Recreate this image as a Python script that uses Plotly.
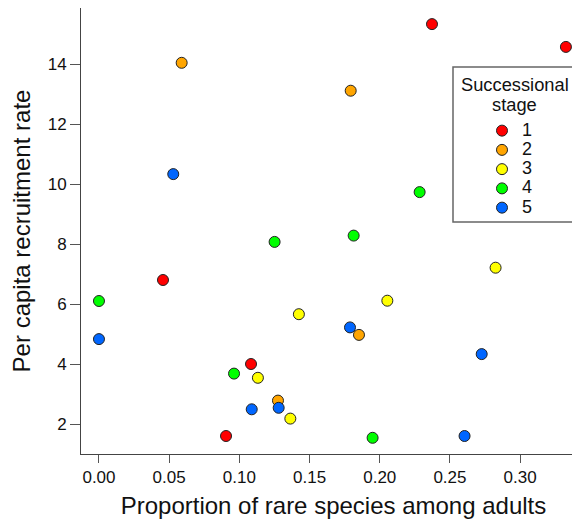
import plotly.graph_objects as go

stages = ["1", "2", "3", "4", "5"]
colors = ["#FF0000", "#FFA500", "#FFFF00", "#00FF00", "#0066FF"]

x_stage1 = [0.2372, 0.3326, 0.0456, 0.1083, 0.0905]
y_stage1 = [15.33, 14.57, 6.80, 4.00, 1.60]

x_stage2 = [0.0589, 0.1793, 0.1852, 0.1275]
y_stage2 = [14.04, 13.11, 4.97, 2.78]

x_stage3 = [0.2825, 0.2054, 0.1424, 0.1132, 0.1363]
y_stage3 = [7.21, 6.11, 5.66, 3.54, 2.18]

x_stage4 = [0.2284, 0.1251, 0.1814, 0.0000, 0.0962, 0.1949]
y_stage4 = [9.73, 8.07, 8.28, 6.10, 3.68, 1.54]

x_stage5 = [0.0529, 0.0000, 0.1788, 0.2726, 0.1088, 0.1280, 0.2604]
y_stage5 = [10.33, 4.83, 5.22, 4.33, 2.49, 2.54, 1.60]

xs = [x_stage1, x_stage2, x_stage3, x_stage4, x_stage5]
ys = [y_stage1, y_stage2, y_stage3, y_stage4, y_stage5]

x_ticks = [0.00, 0.05, 0.10, 0.15, 0.20, 0.25, 0.30]
x_ticklabels = ["0.00", "0.05", "0.10", "0.15", "0.20", "0.25", "0.30"]
y_ticks = [2, 4, 6, 8, 10, 12, 14]

FONT = "Liberation Sans, Arial, sans-serif"
TXT = "#111111"

fig = go.Figure()
for s, c, x, y in zip(stages, colors, xs, ys):
    fig.add_trace(go.Scatter(
        x=x, y=y, mode="markers",
        name='<span style="font-size:18px">%s</span>' % s,
        marker=dict(color=c, size=11, line=dict(color="#222222", width=1)),
    ))

# page body has an 8px default margin: figure origin sits at screen (8, 8)
OFF = 8
W, H = 580, 522
L, R, T, B = 73, 2, 0, 76
pw, ph = W - L - R, H - T - B

def px(sx):
    return (sx - OFF - L) / pw

def py(sy):
    return (H - B - (sy - OFF)) / ph

fig.update_layout(
    width=W, height=H,
    margin=dict(l=L, r=R, t=T, b=B, pad=0),
    plot_bgcolor="white", paper_bgcolor="white",
    font=dict(family=FONT, color=TXT),
    showlegend=True,
    legend=dict(
        x=px(482), y=py(116), xanchor="left", yanchor="top",
        bgcolor="rgba(0,0,0,0)", borderwidth=0,
        font=dict(size=12.5, family=FONT, color=TXT),
        tracegroupgap=0, itemwidth=30,
    ),
    xaxis=dict(
        range=[-0.0128, 0.3469], tickvals=x_ticks, ticktext=x_ticklabels,
        showgrid=False, zeroline=False, showline=True, mirror=True,
        linecolor="#444444", linewidth=1,
        ticks="outside", ticklen=8, tickcolor="#555555",
        tickfont=dict(size=17, family=FONT, color=TXT),
        title=dict(text="Proportion of rare species among adults",
                   font=dict(size=24, family=FONT, color=TXT), standoff=10),
    ),
    yaxis=dict(
        range=[1.0, 15.867], tickvals=y_ticks,
        showgrid=False, zeroline=False, showline=True, mirror=True,
        linecolor="#444444", linewidth=1,
        ticks="outside", ticklen=10, tickcolor="#555555",
        tickfont=dict(size=17, family=FONT, color=TXT),
        title=dict(text="Per capita recruitment rate",
                   font=dict(size=24, family=FONT, color=TXT), standoff=12),
    ),
    shapes=[
        dict(type="rect", xref="paper", yref="paper",
             x0=px(453), x1=px(576), y0=py(222), y1=py(67),
             line=dict(color="#666666", width=1.5), fillcolor="rgba(0,0,0,0)"),
    ],
    annotations=[
        dict(text="Successional", xref="paper", yref="paper",
             x=px(514.5), y=py(84), xanchor="center", yanchor="middle",
             showarrow=False, font=dict(size=18.3, family=FONT, color=TXT)),
        dict(text="stage", xref="paper", yref="paper",
             x=px(514.5), y=py(105), xanchor="center", yanchor="middle",
             showarrow=False, font=dict(size=18.3, family=FONT, color=TXT)),
    ],
)

fig.write_html("out.html")
